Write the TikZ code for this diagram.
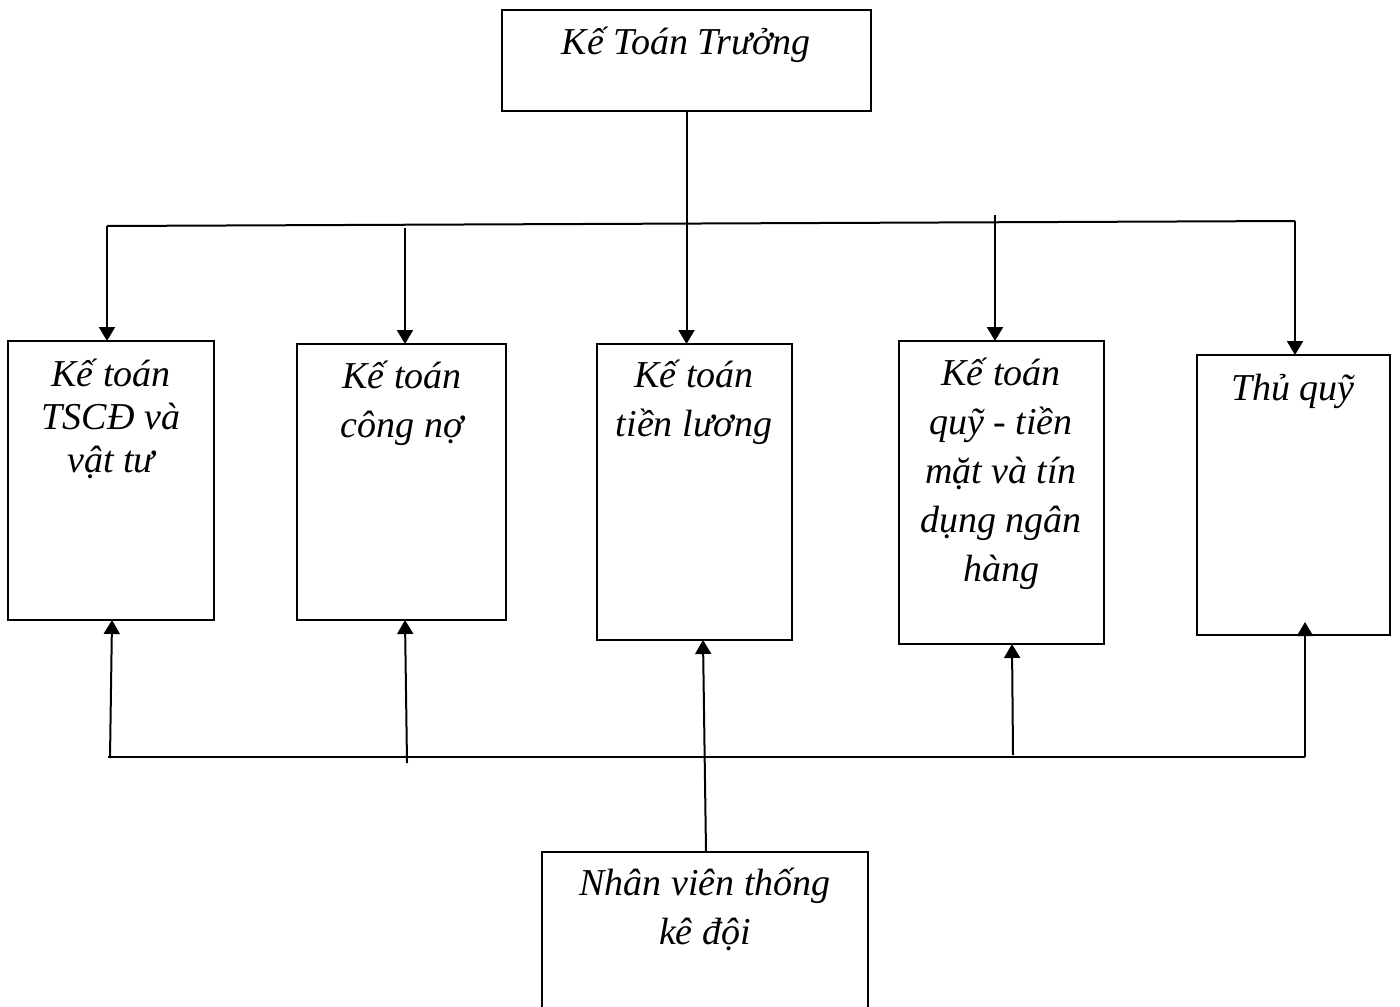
\documentclass[tikz,border=0pt]{standalone}
\usepackage{fontspec}
\setmainfont{Liberation Serif}
\usetikzlibrary{arrows.meta}

\tikzset{
    box/.style={draw, line width=1pt, inner sep=0pt, outer sep=0pt, anchor=north west},
    boxtext/.style={anchor=base, align=center, inner sep=0pt, font=\fontsize{19}{24.5}\selectfont\itshape},
    link/.style={line width=1pt},
    arr/.style={link, -{Triangle[length=7pt,width=8pt]}},
}

\begin{document}
\begin{tikzpicture}[x=0.5pt, y=-0.5pt]

    \clip (0,0) rectangle (1400,1006);
    \fill[white] (0,0) rectangle (1400,1006);

    % boxes
    \node[box, minimum width=184.5pt, minimum height=50.5pt] (boss) at (502,10) {};
    \node[box, minimum width=103pt, minimum height=139.5pt] (b1) at (8,341) {};
    \node[box, minimum width=104.5pt, minimum height=138pt] (b2) at (297,344) {};
    \node[box, minimum width=97.5pt, minimum height=148pt] (b3) at (597,344) {};
    \node[box, minimum width=102.5pt, minimum height=151.5pt] (b4) at (899,341) {};
    \node[box, minimum width=96.5pt, minimum height=140pt] (b5) at (1197,355) {};
    \node[box, minimum width=163pt, minimum height=89pt] (staff) at (542,852) {};

    % texts (anchored at the baseline of their last line)
    \node[boxtext] (tboss) at (686,55) {Kế Toán Trưởng};
    \node[boxtext, font=\fontsize{19}{21.5}\selectfont\itshape] (t1) at (111,472) {Kế toán\\TSCĐ và\\vật tư};
    \node[boxtext] (t2) at (402,437) {Kế toán\\công nợ};
    \node[boxtext] (t3) at (694,436) {Kế toán\\tiền lương};
    \node[boxtext] (t4) at (1001,581) {Kế toán\\quỹ - tiền\\mặt và tín\\dụng ngân\\hàng};
    \node[boxtext] (t5) at (1293,400) {Thủ quỹ};
    \node[boxtext] (t6) at (705,944) {Nhân viên thống\\kê đội};

    % top bus
    \coordinate (busL) at (107,226);
    \coordinate (busR) at (1295,221);
    \coordinate (d2) at (405,228);
    \coordinate (d4) at (995,215);
    \draw[link] (busL) -- (busR);
    \draw[arr] (busL) -- (busL |- b1.north);
    \draw[arr] (d2) -- (d2 |- b2.north);
    \draw[arr] (boss.south) -- (boss.south |- b3.north);
    \draw[arr] (d4) -- (d4 |- b4.north);
    \draw[arr] (busR) -- (busR |- b5.north);

    % bottom bus
    \coordinate (lowL) at (108,757);
    \coordinate (lowR) at (1305,757);
    \coordinate (u1) at (110,758);
    \coordinate (u2) at (407,763);
    \coordinate (u4) at (1013,755);
    \draw[link] (lowL) -- (lowR);
    \draw[arr] (u1) -- (b1.south -| 112,0);
    \draw[arr] (u2) -- (b2.south -| 405,0);
    \draw[arr] (staff.north -| 706,0) -- (b3.south -| 703,0);
    \draw[arr] (u4) -- (b4.south -| 1012,0);
    \draw[arr] (lowR) -- ([yshift=6.5pt]b5.south -| lowR);

\end{tikzpicture}
\end{document}
